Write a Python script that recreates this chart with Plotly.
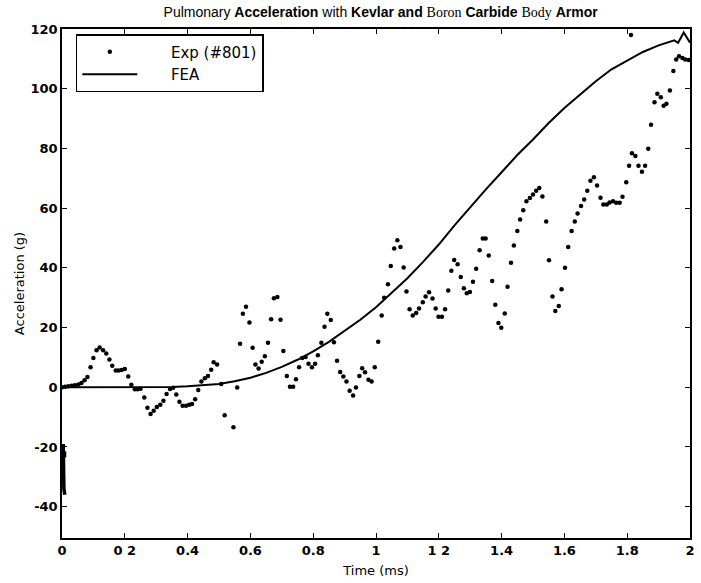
import plotly.graph_objects as go

# Experimental data (#801): time (ms), acceleration (g)
exp_t = [0.000, 0.010, 0.020, 0.031, 0.041, 0.052, 0.062, 0.072, 0.081, 0.091,
         0.100, 0.110, 0.120, 0.131, 0.141, 0.151, 0.160, 0.171, 0.180, 0.190,
         0.200, 0.211, 0.221, 0.232, 0.241, 0.250, 0.262, 0.272, 0.282, 0.292,
         0.302, 0.313, 0.323, 0.333, 0.344, 0.354, 0.364, 0.374, 0.384, 0.395,
         0.405, 0.414, 0.424, 0.434, 0.444, 0.455, 0.465, 0.475, 0.483, 0.494,
         0.507, 0.518, 0.546, 0.558, 0.567, 0.576, 0.586, 0.597, 0.607, 0.616,
         0.626, 0.636, 0.646, 0.656, 0.666, 0.675, 0.686, 0.696, 0.705, 0.716,
         0.726, 0.736, 0.745, 0.755, 0.765, 0.776, 0.785, 0.796, 0.806, 0.815,
         0.826, 0.836, 0.845, 0.856, 0.866, 0.876, 0.886, 0.896, 0.906, 0.916,
         0.927, 0.936, 0.947, 0.956, 0.965, 0.976, 0.986, 0.996, 1.007, 1.018,
         1.026, 1.038, 1.047, 1.058, 1.068, 1.078, 1.088, 1.097, 1.107, 1.117,
         1.128, 1.137, 1.149, 1.158, 1.169, 1.180, 1.190, 1.199, 1.210, 1.220,
         1.230, 1.240, 1.249, 1.260, 1.270, 1.280, 1.289, 1.299, 1.309, 1.319,
         1.330, 1.340, 1.349, 1.359, 1.370, 1.380, 1.390, 1.399, 1.410, 1.419,
         1.430, 1.439, 1.450, 1.459, 1.469, 1.479, 1.490, 1.500, 1.510, 1.520,
         1.530, 1.542, 1.551, 1.562, 1.571, 1.582, 1.591, 1.602, 1.612, 1.623,
         1.633, 1.642, 1.653, 1.663, 1.673, 1.683, 1.694, 1.704, 1.715, 1.724,
         1.735, 1.744, 1.755, 1.765, 1.776, 1.785, 1.797, 1.806, 1.815, 1.826,
         1.836, 1.847, 1.857, 1.867, 1.876, 1.887, 1.896, 1.907, 1.916, 1.925,
         1.936, 1.947, 1.956, 1.965, 1.976, 1.985, 1.996, 1.812]
exp_v = [0.0, 0.2, 0.3, 0.5, 0.7, 0.9, 1.4, 2.3, 3.4, 6.7,
         9.8, 12.4, 13.3, 12.4, 11.3, 9.3, 7.2, 5.6, 5.6, 5.8,
         6.1, 3.6, 0.8, -0.7, -0.7, -0.5, -3.4, -6.9, -9.0, -7.9,
         -6.6, -5.9, -4.5, -2.3, -0.6, -0.2, -2.4, -4.9, -6.2, -6.2,
         -5.9, -5.6, -4.0, -0.9, 1.9, 3.0, 3.8, 5.9, 8.4, 7.6,
         1.1, -9.4, -13.4, -0.1, 14.6, 24.6, 27.0, 21.7, 13.2, 7.6,
         6.3, 8.5, 10.4, 14.9, 22.8, 29.8, 30.2, 22.6, 12.1, 3.8,
         0.2, 0.2, 2.7, 6.7, 9.8, 10.1, 7.9, 6.7, 7.9, 10.7,
         14.9, 20.3, 24.6, 22.5, 15.1, 8.9, 5.1, 3.6, 1.9, -1.2,
         -2.8, -0.1, 3.8, 6.4, 5.0, 2.5, 1.9, 6.7, 15.2, 24.0,
         30.0, 34.5, 40.6, 46.5, 49.2, 47.0, 40.1, 32.1, 26.1, 24.0,
         24.9, 26.4, 28.5, 30.4, 31.8, 29.7, 26.4, 23.6, 23.6, 26.1,
         32.4, 39.0, 42.6, 41.2, 36.9, 33.2, 31.5, 31.9, 35.3, 39.7,
         45.9, 49.8, 49.8, 44.1, 35.6, 27.6, 21.5, 19.9, 24.7, 33.7,
         41.7, 47.5, 52.3, 56.2, 59.3, 62.3, 63.4, 64.6, 65.8, 66.7,
         63.9, 55.5, 42.5, 30.4, 25.5, 27.2, 32.8, 40.0, 47.0, 52.3,
         55.5, 58.2, 60.7, 62.9, 65.8, 69.2, 70.3, 67.6, 63.5, 61.2,
         61.2, 61.9, 62.3, 61.8, 61.8, 63.8, 68.7, 74.2, 78.4, 77.5,
         74.2, 72.2, 74.2, 79.9, 87.9, 95.5, 98.3, 97.1, 94.3, 95.0,
         99.4, 105.9, 109.8, 110.9, 110.3, 109.8, 109.6, 118.0]

# FEA prediction
fea_t = [0.00, 0.05, 0.10, 0.15, 0.20, 0.25, 0.30, 0.35, 0.40, 0.45,
         0.50, 0.55, 0.60, 0.65, 0.70, 0.75, 0.80, 0.85, 0.90, 0.95,
         1.00, 1.05, 1.10, 1.15, 1.20, 1.25, 1.30, 1.35, 1.40, 1.45,
         1.50, 1.55, 1.60, 1.65, 1.70, 1.75, 1.80, 1.85, 1.90, 1.95,
         1.962, 1.980, 2.000]
fea_v = [0.0, 0.0, 0.0, 0.0, 0.0, 0.0, 0.0, 0.1, 0.3, 0.6,
         1.1, 2.0, 3.2, 4.8, 6.8, 9.2, 12.0, 15.2, 18.8, 22.6,
         26.8, 31.5, 36.5, 42.0, 47.8, 54.2, 60.3, 66.3, 72.0, 77.8,
         83.0, 88.5, 93.5, 98.0, 102.5, 106.5, 109.5, 112.3, 114.5, 116.2,
         115.4, 118.8, 115.4]

# start-of-record transient trace near t = 0
art_t = [0.004, 0.004, 0.005, 0.006, 0.009]
art_v = [-19.0, -24.0, -30.0, -34.0, -36.0]
art_mark_t = [0.004]
art_mark_v = [-22.5]

x_tickvals = [0, 0.2, 0.4, 0.6, 0.8, 1.0, 1.2, 1.4, 1.6, 1.8, 2.0]
x_ticktext = ["0", "0 2", "0.4", "0.6", "0.8", "1", "1 2", "1.4", "1.6", "1.8", "2"]
y_tickvals = [-40, -20, 0, 20, 40, 60, 80, 100, 120]
y_ticktext = ["-40", "-20", "0", "20", "40", "60", "80", "100", "120"]

pad = "\u00a0" * 6
fig = go.Figure()
fig.add_trace(go.Scatter(x=exp_t, y=exp_v, mode="markers", name=pad + "Exp (#801)",
                         marker=dict(color="black", size=4.5, symbol="circle")))
fig.add_trace(go.Scatter(x=fea_t, y=fea_v, mode="lines", name=pad + "FEA",
                         line=dict(color="black", width=2)))
fig.add_trace(go.Scatter(x=art_t, y=art_v, mode="lines", showlegend=False,
                         line=dict(color="black", width=3.5)))
fig.add_trace(go.Scatter(x=art_mark_t, y=art_mark_v, mode="markers", showlegend=False,
                         marker=dict(color="black", size=6, symbol="square")))

title_html = ('Pulmonary <b>Acceleration</b> with <b>Kevlar and</b> '
              '<span style="font-family:Liberation Serif">Boron</span> <b>Carbide</b> '
              '<span style="font-family:Liberation Serif">Body</span> <b>Armor</b>')

tick_font = dict(family="DejaVu Sans", size=13, weight="bold", color="black")

fig.update_layout(
    width=701, height=583,
    margin=dict(l=62, r=6, t=29, b=45),
    paper_bgcolor="white", plot_bgcolor="white",
    font=dict(family="Liberation Sans, Arial", color="black"),
    title=dict(text=title_html, x=0.543, xanchor="center", y=0.979, yanchor="middle",
               font=dict(family="Liberation Sans, Arial", size=14)),
    showlegend=True,
    legend=dict(x=0.022, y=0.99, xanchor="left", yanchor="top",
                bgcolor="white", bordercolor="black", borderwidth=1.5,
                font=dict(size=15, family="DejaVu Sans"),
                itemwidth=55, tracegroupgap=0),
    xaxis=dict(range=[0, 2], tickvals=x_tickvals, ticktext=x_ticktext,
               showgrid=False, zeroline=False, showline=True, linecolor="black",
               linewidth=1.5, mirror="ticks", ticks="inside", ticklen=5,
               tickcolor="black", tickwidth=1.2, tickfont=tick_font,
               title=dict(text="Time (ms)", font=dict(size=13, family="DejaVu Sans"),
                          standoff=9)),
    yaxis=dict(range=[-50.5, 120], tickvals=y_tickvals, ticktext=y_ticktext,
               showgrid=False, zeroline=False, showline=True, linecolor="black",
               linewidth=1.5, mirror="ticks", ticks="inside", ticklen=5,
               tickcolor="black", tickwidth=1.2, tickfont=tick_font,
               title=dict(text="Acceleration (g)", font=dict(size=13, family="DejaVu Sans"),
                          standoff=3)),
)

fig.write_html("out.html", config={"displayModeBar": False},
               post_script="document.body.style.margin='0px';")
